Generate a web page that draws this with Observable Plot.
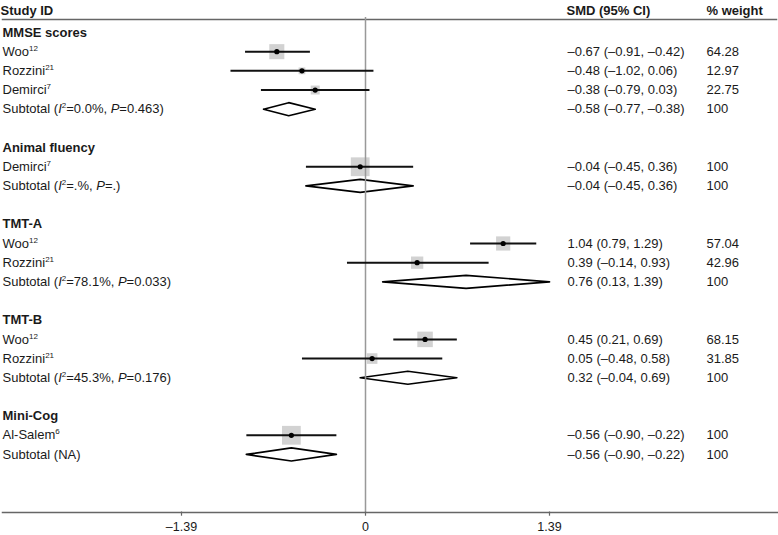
<!DOCTYPE html>
<html>
<head>
<meta charset="utf-8">
<script src="https://cdn.jsdelivr.net/npm/d3@7"></script>
<script src="https://cdn.jsdelivr.net/npm/@observablehq/plot@0.6"></script>
<style>
  html, body { margin: 0; padding: 0; background: #fff; }
  svg { display: block; }
</style>
</head>
<body>
<div id="chart"></div>
<script>
// ---- Data ----
const groups = ["MMSE scores", "Animal fluency", "TMT-A", "TMT-B", "Mini-Cog"];

const studyGroup = [0, 0, 0, 1, 2, 2, 3, 3, 4];
const studyName  = ["Woo", "Rozzini", "Demirci", "Demirci", "Woo", "Rozzini", "Woo", "Rozzini", "Al-Salem"];
const studyRef   = ["12", "21", "7", "7", "12", "21", "12", "21", "6"];
const studySMD   = [-0.67, -0.48, -0.38, -0.04, 1.04, 0.39, 0.45, 0.05, -0.56];
const studyLo    = [-0.91, -1.02, -0.79, -0.45, 0.79, -0.14, 0.21, -0.48, -0.90];
const studyHi    = [-0.42, 0.06, 0.03, 0.36, 1.29, 0.93, 0.69, 0.58, -0.22];
const studyW     = [64.28, 12.97, 22.75, 100, 57.04, 42.96, 68.15, 31.85, 100];

const subSMD   = [-0.58, -0.04, 0.76, 0.32, -0.56];
const subLo    = [-0.77, -0.45, 0.13, -0.04, -0.90];
const subHi    = [-0.38, 0.36, 1.39, 0.69, -0.22];
const subI2    = ["0.0%", ".%", "78.1%", "45.3%", null];
const subP     = ["0.463", ".", "0.033", "0.176", null];

const xTicks = [-1.39, 0, 1.39];
const headers = ["Study ID", "SMD (95% CI)", "% weight"];

// ---- Build the row table ----
const fmt = v => v.toFixed(2).replace("-", "\u2013");
const fmtW = w => w === 100 ? "100" : w.toFixed(2);
const ci = (e, l, h) => `${fmt(e)} (${fmt(l)}, ${fmt(h)})`;
const rows = [];
let r = 0;
groups.forEach((g, gi) => {
  rows.push({row: r++, kind: "head", label: g});
  studyName.forEach((n, i) => {
    if (studyGroup[i] !== gi) return;
    rows.push({row: r++, kind: "study", label: `${n}^${studyRef[i]}^`,
      est: studySMD[i], lo: studyLo[i], hi: studyHi[i], w: studyW[i],
      ci: ci(studySMD[i], studyLo[i], studyHi[i]), wt: fmtW(studyW[i])});
  });
  const lab = subI2[gi] === null ? "Subtotal (NA)"
    : `Subtotal (*I*^2^=${subI2[gi]}, *P*=${subP[gi]})`;
  rows.push({row: r++, kind: "sub", label: lab, est: subSMD[gi], lo: subLo[gi], hi: subHi[gi],
    ci: ci(subSMD[gi], subLo[gi], subHi[gi]), wt: "100"});
  r++; // blank row
});
const studies = rows.filter(d => d.kind === "study");
const subs = rows.filter(d => d.kind === "sub");
const heads = rows.filter(d => d.kind === "head");
const body = rows.filter(d => d.kind !== "head");
const H = 0.34; // diamond half-height in row units
const diamondPts = subs.flatMap((d, k) => [
  {k, x: d.lo, y: d.row}, {k, x: d.est, y: d.row - H},
  {k, x: d.hi, y: d.row}, {k, x: d.est, y: d.row + H}, {k, x: d.lo, y: d.row}
]);
const headRow = [{row: -1.15}];

const font = "'Liberation Sans', Arial, Helvetica, sans-serif";
const textCol = "#1a1a1a";

const chart = Plot.plot({
  width: 778,
  height: 535,
  marginTop: 17,
  marginBottom: 23,
  marginLeft: 0,
  marginRight: 0,
  style: {fontFamily: font, fontSize: "13px", color: textCol, background: "#fff"},
  x: {domain: [-1.39, 1.39], range: [181, 549], axis: null},
  y: {domain: [0, 25], range: [32, 511.5], axis: null},
  r: {type: "sqrt", domain: [0, 100], range: [0, 10.6]},
  marks: [
    // header & axis lines
    Plot.frame({anchor: "top", stroke: "#666", strokeWidth: 1.5, inset: 2}),
    Plot.frame({anchor: "bottom", stroke: "#666", strokeWidth: 1.5, insetLeft: 2, insetRight: 1}),
    // weight squares
    Plot.dot(studies, {x: "est", y: "row", r: "w", symbol: "square", fill: "#d2d2d2", stroke: "none"}),
    // subtotal diamonds
    Plot.line(diamondPts, {x: "x", y: "y", z: "k", fill: "white", stroke: "black", strokeWidth: 1.7, curve: "linear"}),
    // zero line
    Plot.ruleX([0], {stroke: "#999", strokeWidth: 1.5}),
    // confidence intervals
    Plot.link(studies, {x1: "lo", x2: "hi", y1: "row", y2: "row", stroke: "#111", strokeWidth: 2}),
    Plot.dot(studies, {x: "est", y: "row", r: 2.6, fill: "black", stroke: "none"}),
    // ticks
    Plot.ruleX(xTicks, {x: d => d, y1: 25, y2: 25.22, stroke: "#666", strokeWidth: 1.2}),
    Plot.text(xTicks, {x: d => d, y: 25, dy: 15, text: d => d === 0 ? "0" : fmt(d), fill: textCol, fontSize: 12.5}),
    // column headers
    Plot.text(headRow, {y: "row", frameAnchor: "left", dx: 0, text: () => headers[0], fontWeight: "bold", textAnchor: "start", fill: textCol}),
    Plot.text(headRow, {y: "row", frameAnchor: "left", dx: 566, text: () => headers[1], fontWeight: "bold", textAnchor: "start", fill: textCol}),
    Plot.text(headRow, {y: "row", frameAnchor: "left", dx: 706, text: () => headers[2], fontWeight: "bold", textAnchor: "start", fill: textCol}),
    // group headers (bold)
    Plot.text(heads, {y: "row", frameAnchor: "left", dx: 2, text: "label", textAnchor: "start", fill: textCol, fontWeight: "bold"}),
    // row labels
    Plot.text(body, {y: "row", frameAnchor: "left", dx: 2, text: "label", textAnchor: "start", fill: textCol, className: "lbl"}),
    Plot.text(body, {y: "row", frameAnchor: "left", dx: 567, text: "ci", textAnchor: "start", fill: textCol}),
    Plot.text(body, {y: "row", frameAnchor: "left", dx: 706, text: "wt", textAnchor: "start", fill: textCol})
  ]
});

// convert simple markup (*italic*, ^sup^) into tspans
d3.select(chart).selectAll(".lbl text").each(function () {
  const el = d3.select(this);
  const s = el.text();
  if (!/[\*\^]/.test(s)) return;
  el.text(null);
  const parts = s.split(/(\*[^*]+\*|\^[^^]+\^)/).filter(p => p !== "");
  parts.forEach(p => {
    if (p.startsWith("*")) {
      el.append("tspan").attr("font-style", "italic").text(p.slice(1, -1));
    } else if (p.startsWith("^")) {
      el.append("tspan").attr("font-size", "8px").attr("baseline-shift", "5").text(p.slice(1, -1));
    } else {
      el.append("tspan").text(p);
    }
  });
});

document.getElementById("chart").append(chart);
</script>
</body>
</html>
